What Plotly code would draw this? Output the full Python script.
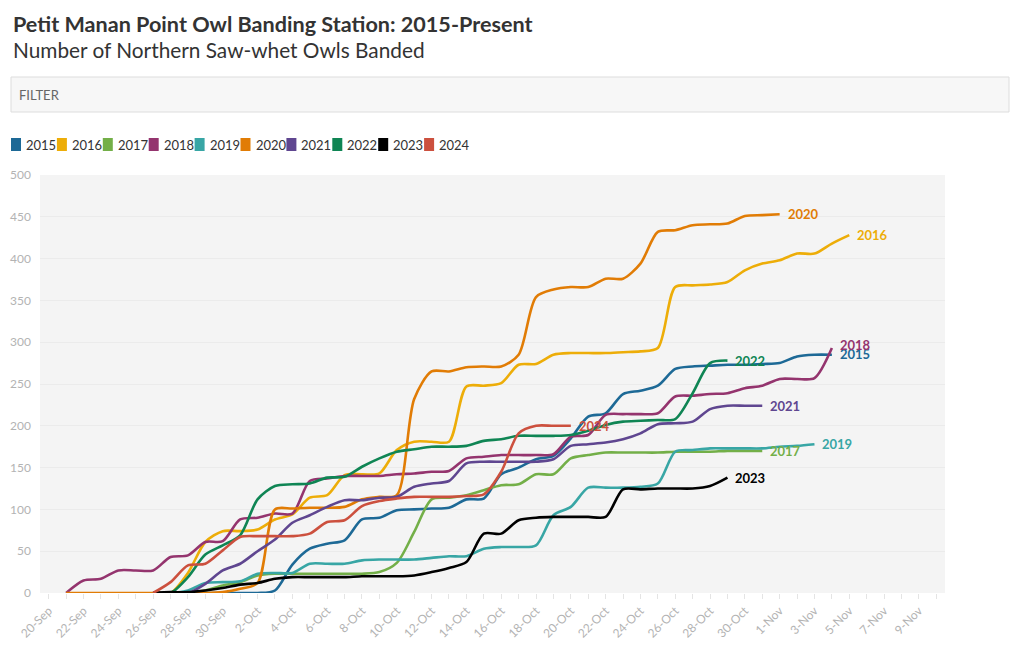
import plotly.graph_objects as go
import pandas as pd

# ---------------- data ----------------
# daily dates (Sep 21 .. Nov 5); series aligned to these dates, None = no data yet
dates = pd.date_range("2000-09-21", "2000-11-05", freq="D")

years = ["2015", "2016", "2017", "2018", "2019", "2020", "2021", "2022", "2023", "2024"]
colors = ["#1D6996", "#EDAD08", "#73AF48", "#94346E", "#38A6A5",
          "#E17C05", "#5F4690", "#0F8554", "#000000", "#CC503E"]
label_yshift = [1, 0, 0, 3, 0, 0, 0, 0, 0, 0]

N5 = [None] * 5  # no data Sep 21-25

v2015 = N5 + [0, 0, 0, 0, 0, 0, 0, 3, 34, 53, 59, 63, 88, 90, 99, 100, 101, 102, 112, 113,
              142, 150, 160, 164, 185, 211, 215, 238, 242, 248, 268, 271, 272, 273, 273,
              274, 275, 283, 285, 285]
v2016 = N5 + [0, 0, 24, 61, 74, 74, 76, 88, 94, 114, 117, 141, 142, 143, 171, 181, 181, 181,
              247, 248, 251, 273, 274, 285, 287, 287, 287, 288, 289, 293, 366, 368, 369,
              372, 386, 394, 398, 406, 406, 418, 428]
v2017 = N5 + [0, 0, 0, 3, 9, 13, 21, 23, 23, 23, 23, 23, 23, 25, 36, 73, 112, 114, 117, 123,
              129, 130, 142, 142, 161, 165, 168, 168, 168, 168, 169, 169, 169, 170, 170, 170]
v2018 = [0, 15, 17, 27, 27, 27, 43, 45, 61, 62, 88, 90, 95, 95, 134, 137, 140, 140, 140, 142,
         143, 145, 146, 161, 163, 165, 165, 165, 166, 187, 189, 213, 214, 214, 215, 235,
         236, 238, 239, 245, 248, 256, 256, 257, 293]
v2019 = N5 + [0, 0, 3, 12, 13, 14, 23, 24, 24, 35, 35, 35, 39, 40, 40, 40, 42, 44, 44, 53,
              55, 55, 57, 93, 103, 126, 126, 126, 127, 131, 169, 171, 173, 173, 173, 173,
              175, 176, 178]
v2020 = [0, 0, 0, 0, 0, 0, 0, 0, 0, 1, 5, 12, 100, 101, 102, 102, 103, 112, 115, 117,
         232, 265, 265, 270, 271, 271, 285, 354, 363, 366, 366, 376, 376, 394, 432, 434,
         440, 441, 442, 451, 452, 453]
v2021 = N5 + [0, 0, 0, 11, 27, 35, 50, 64, 84, 93, 103, 111, 111, 114, 115, 127, 131, 134,
              155, 157, 157, 157, 157, 160, 176, 178, 180, 184, 191, 202, 203, 205, 220,
              224, 224, 224]
v2022 = N5 + [0, 0, 19, 46, 57, 69, 112, 128, 130, 131, 138, 139, 151, 161, 169, 172, 175,
              175, 176, 182, 184, 188, 188, 188, 189, 194, 201, 205, 206, 207, 208, 239,
              275, 278]
v2023 = N5 + [0, 1, 1, 3, 6, 10, 12, 17, 19, 19, 19, 19, 20, 20, 20, 21, 25, 30, 37, 71,
              71, 87, 90, 91, 91, 91, 91, 124, 124, 125, 125, 125, 128, 138]
v2024 = N5 + [0, 13, 33, 35, 51, 67, 68, 68, 68, 71, 85, 87, 104, 110, 113, 115, 115, 115,
              116, 118, 145, 191, 200, 200, 200]

series = [v2015, v2016, v2017, v2018, v2019, v2020, v2021, v2022, v2023, v2024]

y_ticks = [0, 50, 100, 150, 200, 250, 300, 350, 400, 450, 500]

# ---------------- layout helpers ----------------
W, H = 1020, 650
L, R, T, B = 40, 75, 175, 57
PW, PH = W - L - R, H - T - B


def px(x):
    return (x - L) / PW


def py(y):
    return (H - B - y) / PH


FONT = "Source Sans Pro, Lato, Noto Sans, sans-serif"

fig = go.Figure()

annotations = []
shapes = []

for yr, col, vals, ysh in zip(years, colors, series, label_yshift):
    xs = dates[:len(vals)]
    fig.add_trace(go.Scatter(
        x=xs, y=vals, mode="lines", name=yr,
        line=dict(color=col, width=2.6, shape="spline", smoothing=0.8),
        showlegend=False, connectgaps=False,
    ))
    annotations.append(dict(
        x=xs[-1], y=vals[-1], xref="x", yref="y", text=f"<b>{yr}</b>",
        showarrow=False, xanchor="left", yanchor="middle", xshift=6, yshift=ysh,
        font=dict(family=FONT, size=13, color=col),
    ))

# title & subtitle
annotations.append(dict(
    x=px(11), y=py(24), xref="paper", yref="paper", xanchor="left", yanchor="middle",
    text="<b>Petit Manan Point Owl Banding Station: 2015-Present</b>", showarrow=False,
    font=dict(family=FONT, size=21.6, color="#333333"),
))
annotations.append(dict(
    x=px(11), y=py(50), xref="paper", yref="paper", xanchor="left", yanchor="middle",
    text="Number of Northern Saw-whet Owls Banded", showarrow=False,
    font=dict(family=FONT, size=20.8, color="#333333"),
))

# filter box
shapes.append(dict(type="rect", xref="paper", yref="paper",
                   x0=px(11), x1=px(1009), y0=py(112), y1=py(77),
                   fillcolor="#f7f7f7", line=dict(color="#dddddd", width=1), layer="below"))
annotations.append(dict(
    x=px(17), y=py(95), xref="paper", yref="paper", xanchor="left", yanchor="middle",
    text="FILTER", showarrow=False, font=dict(family=FONT, size=13, color="#666666"),
))

# legend (swatch + label)
for i, (yr, col) in enumerate(zip(years, colors)):
    x0 = 11 + i * 45.9
    shapes.append(dict(type="rect", xref="paper", yref="paper",
                       x0=px(x0), x1=px(x0 + 10), y0=py(151), y1=py(138),
                       fillcolor=col, line=dict(width=0)))
    annotations.append(dict(
        x=px(x0 + 13), y=py(145), xref="paper", yref="paper", xanchor="left",
        yanchor="middle", text=yr, showarrow=False,
        font=dict(family=FONT, size=13, color="#333333"),
    ))

fig.update_layout(
    width=W, height=H,
    margin=dict(l=L, r=R, t=T, b=B, autoexpand=False),
    paper_bgcolor="white", plot_bgcolor="#f4f4f4",
    showlegend=False,
    annotations=annotations, shapes=shapes,
    font=dict(family=FONT),
)

fig.update_xaxes(
    type="date",
    range=["2000-09-19 12:00", "2000-11-10 12:00"],
    tick0="2000-09-20", dtick=2 * 86400000, tickformat="%-d-%b",
    tickangle=-45, tickfont=dict(family=FONT, size=12, color="#b3b3b3"),
    ticks="outside", ticklen=5, tickcolor="#e4e4e4",
    minor=dict(dtick=86400000, tick0="2000-09-20", ticks="outside", ticklen=5,
               tickcolor="#e4e4e4", showgrid=False),
    showgrid=False, zeroline=False, showline=False,
)
fig.update_yaxes(
    range=[0, 500], tickvals=y_ticks,
    tickfont=dict(family=FONT, size=12, color="#b3b3b3"),
    showgrid=True, gridcolor="#ebebeb", gridwidth=1,
    zeroline=False, showline=False, ticks="", ticklabelstandoff=8,
)

fig.write_html("out.html", config={"displayModeBar": False},
               post_script="document.body.style.margin='0';")
